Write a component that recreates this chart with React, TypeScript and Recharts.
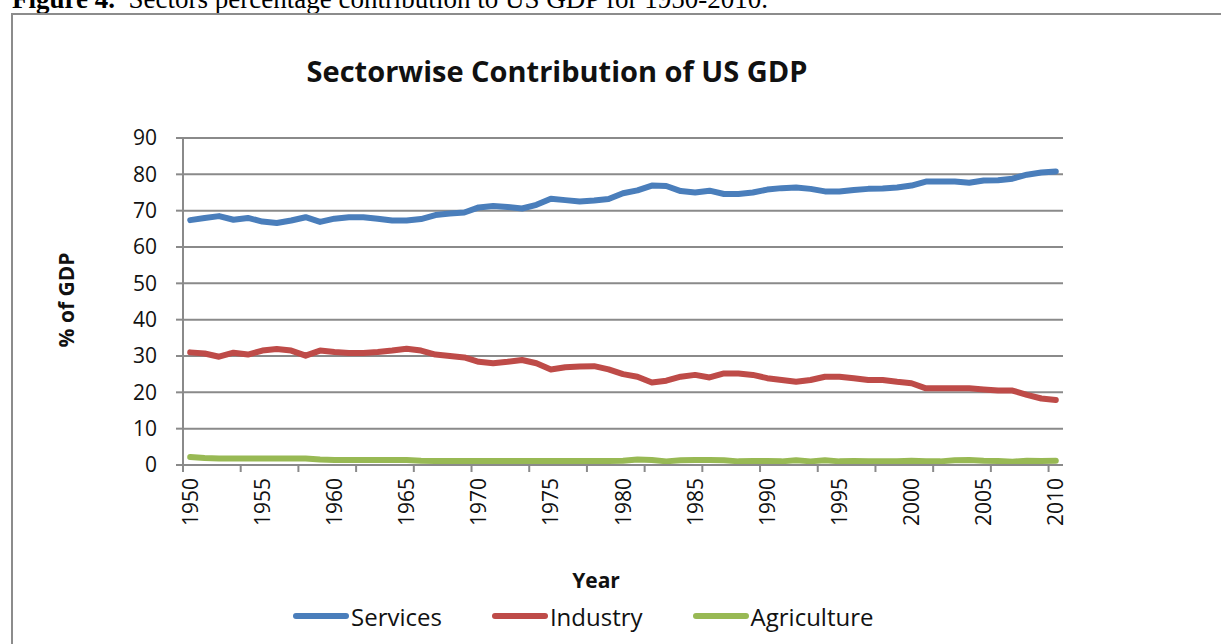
import React from "react";
import { CartesianGrid, Legend, Line, LineChart, XAxis, YAxis } from "recharts";

const years = [
  1950, 1951, 1952, 1953, 1954, 1955, 1956, 1957, 1958, 1959,
  1960, 1961, 1962, 1963, 1964, 1965, 1966, 1967, 1968, 1969,
  1970, 1971, 1972, 1973, 1974, 1975, 1976, 1977, 1978, 1979,
  1980, 1981, 1982, 1983, 1984, 1985, 1986, 1987, 1988, 1989,
  1990, 1991, 1992, 1993, 1994, 1995, 1996, 1997, 1998, 1999,
  2000, 2001, 2002, 2003, 2004, 2005, 2006, 2007, 2008, 2009,
  2010,
];

const services = [
  67.4, 68.0, 68.5, 67.5, 68.0, 67.0, 66.6, 67.3, 68.2, 66.9,
  67.8, 68.2, 68.2, 67.8, 67.3, 67.3, 67.7, 68.8, 69.2, 69.5,
  70.9, 71.3, 71.0, 70.6, 71.6, 73.3, 72.9, 72.5, 72.8, 73.2,
  74.8, 75.6, 76.9, 76.8, 75.4, 75.0, 75.5, 74.6, 74.6, 75.0,
  75.8, 76.2, 76.4, 76.0, 75.3, 75.3, 75.7, 76.0, 76.1, 76.4,
  76.9, 78.0, 78.0, 78.0, 77.7, 78.3, 78.4, 78.8, 79.9, 80.5,
  80.8,
];

const industry = [
  31.0, 30.7, 29.8, 30.9, 30.4, 31.5, 31.9, 31.5, 30.1, 31.5,
  31.1, 30.8, 30.8, 31.1, 31.5, 32.0, 31.5, 30.4, 30.0, 29.6,
  28.4, 28.0, 28.4, 28.9, 28.0, 26.3, 26.9, 27.1, 27.2, 26.3,
  25.0, 24.3, 22.7, 23.2, 24.3, 24.8, 24.1, 25.2, 25.2, 24.8,
  23.9, 23.4, 22.9, 23.4, 24.3, 24.3, 23.9, 23.4, 23.4, 22.9,
  22.5, 21.1, 21.1, 21.1, 21.1, 20.8, 20.5, 20.5, 19.3, 18.3,
  17.9,
];

const agriculture = [
  2.2, 1.9, 1.8, 1.8, 1.8, 1.8, 1.8, 1.8, 1.8, 1.5,
  1.4, 1.4, 1.4, 1.4, 1.4, 1.4, 1.2, 1.1, 1.1, 1.1,
  1.1, 1.1, 1.1, 1.1, 1.1, 1.1, 1.1, 1.1, 1.1, 1.1,
  1.2, 1.5, 1.4, 1.0, 1.3, 1.4, 1.4, 1.3, 1.0, 1.1,
  1.1, 1.0, 1.3, 1.0, 1.3, 1.0, 1.1, 1.0, 1.0, 1.0,
  1.2, 1.0, 1.0, 1.3, 1.4, 1.2, 1.1, 0.9, 1.2, 1.1,
  1.2,
];

const seriesNames = ["Services", "Industry", "Agriculture"];

// labels every 5 years, tick marks every 4 categories on the boundaries
const labelYears = [1950, 1955, 1960, 1965, 1970, 1975, 1980, 1985, 1990, 1995, 2000, 2005, 2010];
const tickMarkYears = [1949.5, 1953.5, 1957.5, 1961.5, 1965.5, 1969.5, 1973.5, 1977.5, 1981.5, 1985.5, 1989.5, 1993.5, 1997.5, 2001.5, 2005.5, 2009.5];
const yTicks = [0, 10, 20, 30, 40, 50, 60, 70, 80, 90];

const data = years.map((year, i) => ({
  year,
  Services: services[i],
  Industry: industry[i],
  Agriculture: agriculture[i],
}));

const FONT = "'Open Sans', sans-serif";
const AXIS = "#8a8a8a";

const YearTick = (props: any) => {
  const { x, y, payload } = props;
  if (labelYears.includes(payload.value)) {
    return (
      <text
        x={x}
        y={y + 13}
        dy="0.36em"
        textAnchor="end"
        transform={`rotate(-90, ${x}, ${y + 13})`}
        fontFamily={FONT}
        fontSize={21}
        fill="#111"
      >
        {payload.value}
      </text>
    );
  }
  return <line x1={x} x2={x} y1={y} y2={y + 7} stroke={AXIS} strokeWidth={2} />;
};

const LegendContent = (props: any) => {
  const items = [...(props.payload || [])].sort(
    (a: any, b: any) => seriesNames.indexOf(a.value) - seriesNames.indexOf(b.value)
  );
  return (
    <div style={{ display: "flex", alignItems: "center", height: 32, gap: 50, fontFamily: FONT, fontSize: 24, color: "#111" }}>
      {items.map((p: any) => (
        <div key={p.value} style={{ display: "flex", alignItems: "center" }}>
          <span style={{ display: "inline-block", width: 56, height: 6, borderRadius: 3, background: p.color, marginRight: 2 }} />
          <span>{p.value}</span>
        </div>
      ))}
    </div>
  );
};

export default function App() {
  return (
    <div style={{ position: "absolute", left: 0, top: 0, width: 1221, height: 644, background: "#fff", overflow: "hidden" }}>
      <svg width={1221} height={644} style={{ position: "absolute", left: 0, top: 0 }}>
        <text x={12} y={8} fontFamily="'Liberation Serif', serif" fontSize={27} fill="#000">
          <tspan fontWeight="bold">Figure 4.</tspan>
          <tspan>{"\u00a0 Sectors percentage contribution to US GDP for 1950-2010."}</tspan>
        </text>
        <rect x={12} y={14} width={1230} height={650} fill="#fff" stroke="#8c8c8c" strokeWidth={2} />
        <text x={557} y={82} textAnchor="middle" fontFamily={FONT} fontWeight="bold" fontSize={29} fill="#111">
          Sectorwise Contribution of US GDP
        </text>
        <text x={74} y={300} textAnchor="middle" transform="rotate(-90, 74, 300)" fontFamily={FONT} fontWeight="bold" fontSize={21} fill="#111">
          % of GDP
        </text>
        <text x={596} y={588} textAnchor="middle" fontFamily={FONT} fontWeight="bold" fontSize={21} fill="#111">
          Year
        </text>
      </svg>
      <div style={{ position: "absolute", left: 0, top: 0 }}>
        <LineChart width={1221} height={644} data={data} margin={{ top: 138, right: 158, bottom: 67, left: 123 }}>
          <CartesianGrid horizontal vertical={false} stroke={AXIS} strokeWidth={2} />
          <XAxis
            dataKey="year"
            type="number"
            domain={[1949.5, 2010.5]}
            ticks={[...tickMarkYears, ...labelYears].sort((a, b) => a - b)}
            interval={0}
            tickLine={false}
            tickSize={0}
            tickMargin={0}
            height={80}
            axisLine={{ stroke: AXIS, strokeWidth: 2 }}
            tick={<YearTick />}
          />
          <YAxis
            domain={[0, 90]}
            ticks={yTicks}
            interval={0}
            width={60}
            tickSize={7}
            tickMargin={19}
            tickLine={{ stroke: AXIS, strokeWidth: 2 }}
            axisLine={{ stroke: AXIS, strokeWidth: 2 }}
            tick={{ fontFamily: FONT, fontSize: 21, fill: "#111" }}
          />
          <Line dataKey="Services" stroke="#4a7ebb" strokeWidth={6} dot={false} isAnimationActive={false} strokeLinejoin="round" strokeLinecap="round" />
          <Line dataKey="Industry" stroke="#be4b48" strokeWidth={6} dot={false} isAnimationActive={false} strokeLinejoin="round" strokeLinecap="round" />
          <Line dataKey="Agriculture" stroke="#98b954" strokeWidth={6} dot={false} isAnimationActive={false} strokeLinejoin="round" strokeLinecap="round" />
          <Legend
            content={<LegendContent />}
            wrapperStyle={{ position: "absolute", left: 293, top: 600, width: "auto" }}
          />
        </LineChart>
      </div>
    </div>
  );
}
